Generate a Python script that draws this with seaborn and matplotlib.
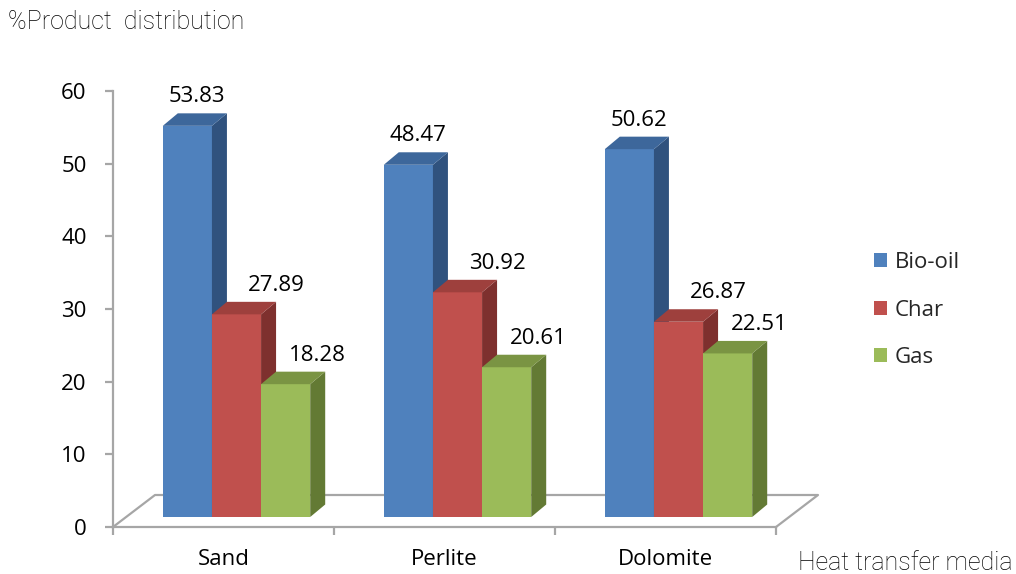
import numpy as np
import pandas as pd
import matplotlib
matplotlib.use("Agg")
import matplotlib.pyplot as plt
import matplotlib.transforms as mtransforms
from matplotlib.patches import Polygon, Patch
from matplotlib.lines import Line2D
import seaborn as sns

# ---- data ----
media = ["Sand", "Perlite", "Dolomite"]
products = ["Bio-oil", "Char", "Gas"]
bio_oil = [53.83, 48.47, 50.62]
char = [27.89, 30.92, 26.87]
gas = [18.28, 20.61, 22.51]
y_ticks = [0, 10, 20, 30, 40, 50, 60]

# ---- style ----
front_colors = ["#4F81BD", "#C0504D", "#9BBB59"]
top_colors = ["#3D679B", "#9E403D", "#7A9443"]
side_colors = ["#30527E", "#7E302E", "#637A34"]
label_dx = [10, 40, 32]       # px, horizontal nudge of value labels per series
FRONT_OFF = (13, 10)          # px, bar front face offset (mid-depth)
DEPTH = (15, 12.5)            # px, bar depth
FLOOR = (42, 32)              # px, floor depth
GRAY = "#A6A6A6"
FONT = "Open Sans"
FS = 16

df = pd.DataFrame({
    "media": media * 3,
    "product": np.repeat(products, len(media)),
    "value": bio_oil + char + gas,
})

sns.set_theme(style="white")
plt.rcParams["font.family"] = [FONT, "DejaVu Sans"]

W, H = 1016, 574
fig = plt.figure(figsize=(W / 100, H / 100), dpi=100)
ax = fig.add_axes([113 / W, 47 / H, 663 / W, 436 / H])

sns.barplot(data=df, x="media", y="value", hue="product", order=media,
            hue_order=products, palette=front_colors, width=0.667,
            saturation=1, legend=False, linewidth=0, ax=ax)

ax.set_xlim(-0.5, 2.5)
ax.set_ylim(0, 60)
ax.set_xlabel("")
ax.set_ylabel("")

td = ax.transData
shift = mtransforms.Affine2D().translate(*FRONT_OFF)

bars = []
for si, cont in enumerate(ax.containers):
    for p in cont.patches:
        bars.append((p.get_x(), si, p))
bars.sort(key=lambda t: t[0])

ident = mtransforms.IdentityTransform()
for k, (x, si, p) in enumerate(bars):
    z = 3 + k * 0.1
    p.set_transform(td + shift)
    p.set_zorder(z)
    p.set_clip_on(False)
    w, h = p.get_width(), p.get_height()
    bl = td.transform((x, 0)) + FRONT_OFF
    tr = td.transform((x + w, h)) + FRONT_OFF
    dx, dy = DEPTH
    side = [(tr[0], bl[1]), (tr[0] + dx, bl[1] + dy), (tr[0] + dx, tr[1] + dy), (tr[0], tr[1])]
    top = [(bl[0], tr[1]), (bl[0] + dx, tr[1] + dy), (tr[0] + dx, tr[1] + dy), (tr[0], tr[1])]
    ax.add_patch(Polygon(side, closed=True, facecolor=side_colors[si], edgecolor="none",
                         transform=ident, zorder=z + 0.05, clip_on=False))
    ax.add_patch(Polygon(top, closed=True, facecolor=top_colors[si], edgecolor="none",
                         transform=ident, zorder=z + 0.05, clip_on=False))
    cx = x + w / 2
    ax.annotate(f"{h:.2f}", xy=(cx, h), xytext=((FRONT_OFF[0] + label_dx[si]) * 0.72,
                                                   (FRONT_OFF[1] + 29) * 0.72),
                textcoords="offset points", ha="center", va="center",
                fontsize=FS, color="black", zorder=20, annotation_clip=False)

# floor outline
p0 = td.transform((-0.5, 0))
p3 = td.transform((2.5, 0))
fx, fy = FLOOR
floor = [p0, (p0[0] + fx, p0[1] + fy), (p3[0] + fx, p3[1] + fy), p3]
ax.add_line(Line2D([q[0] for q in floor], [q[1] for q in floor], color=GRAY,
                   linewidth=1.6, transform=ident, zorder=1, clip_on=False))

for s in ["top", "right"]:
    ax.spines[s].set_visible(False)
for s in ["left", "bottom"]:
    ax.spines[s].set_color(GRAY)
    ax.spines[s].set_linewidth(1.6)

ax.set_yticks(y_ticks)
ax.set_yticklabels([str(v) for v in y_ticks])
ax.tick_params(axis="y", left=True, length=6, width=1.6, color=GRAY,
               labelsize=FS, pad=13, labelcolor="black")
ax.set_xticks(range(len(media)))
ax.set_xticklabels(media)
ax.tick_params(axis="x", which="major", bottom=True, length=0, labelsize=FS, pad=16,
               labelcolor="black")
ax.set_xticks([-0.5, 0.5, 1.5, 2.5], minor=True)
ax.tick_params(axis="x", which="minor", bottom=True, length=6, width=1.6,
               color=GRAY, direction="out")
ax.grid(False)
ax.set_facecolor("none")

fig.text(8 / W, 1 - 22 / H, "%Product  distribution", ha="left", va="center",
         fontsize=18, family=["Roboto", "DejaVu Sans"], fontweight="light", color="black")
fig.text(1012 / W, 1 - 563 / H, "Heat transfer media", ha="right", va="center",
         fontsize=18, family=["Roboto", "DejaVu Sans"], fontweight="light", color="black")

handles = [Patch(facecolor=c, edgecolor="none") for c in front_colors]
fig.legend(handles, products, loc="center left", bbox_to_anchor=(874 / W, 1 - 310 / H),
           frameon=False, fontsize=FS, handlelength=0.6, handleheight=0.6,
           handletextpad=0.35, labelspacing=1.2, borderaxespad=0, borderpad=0)

fig.savefig("out.png", dpi=100)
